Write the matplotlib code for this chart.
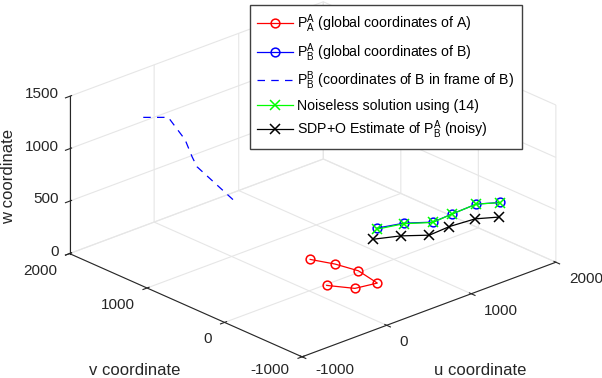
import matplotlib.pyplot as plt
import numpy as np
from mpl_toolkits.mplot3d import proj3d

plt.rcParams['font.family'] = ['Liberation Sans', 'DejaVu Sans']
plt.rcParams['mathtext.fontset'] = 'custom'
plt.rcParams['mathtext.rm'] = 'Liberation Sans'
plt.rcParams['mathtext.it'] = 'Liberation Sans:italic'
plt.rcParams['axes.unicode_minus'] = False
plt.rcParams['grid.color'] = '#e6e6e6'
plt.rcParams['grid.linewidth'] = 0.8

# P_A^A : global coordinates of A
a_u = [462, 555, 607, 551, 330, 192]
a_v = [491, 270, 28, -278, -230, -17]
a_w = [0, 0, 0, 0, 0, 0]

# P_B^A : global coordinates of B
b_u = [583, 832, 1031, 1270, 1571, 1749]
b_v = [-235, -317, -470, -455, -441, -556]
b_w = [500, 500, 500, 500, 500, 500]

# P_B^B : coordinates of B in frame of B
bb_u = [-527, -366, -430, -479, -517, -560]
bb_v = [1565, 1418, 1131, 988, 883, 322]
bb_w = [1300, 1300, 1200, 1100, 1050, 900]

# noiseless solution
g_u = [583, 832, 1031, 1270, 1571, 1749]
g_v = [-235, -317, -470, -455, -441, -556]
g_w = [490, 495, 497, 500, 500, 498]

# SDP+O estimate (noisy)
k_u = [553, 778, 972, 1226, 1503, 1678]
k_v = [-224, -333, -490, -472, -502, -612]
k_w = [400, 400, 400, 400, 400, 400]

u_ticks = [-1000, 0, 1000, 2000]
v_ticks = [-1000, 0, 1000, 2000]
w_ticks = [0, 500, 1000, 1500]

W, H = 602, 378
fig = plt.figure(figsize=(W / 100, H / 100), dpi=100)
ax = fig.add_subplot(projection='3d', proj_type='ortho')
ax.view_init(elev=24, azim=-132.5)
ax.set_box_aspect((1, 1, 0.5))

ax.plot(a_u, a_v, a_w, '-o', color='red', lw=0.9, ms=6.3, mfc='none', mew=1.1,
        label=r'P$_{\rm A}^{\rm A}$ (global coordinates of A)')
ax.plot(b_u, b_v, b_w, '-o', color='blue', lw=0.9, ms=6.3, mfc='none', mew=1.1,
        label=r'P$_{\rm B}^{\rm A}$ (global coordinates of B)')
ax.plot(bb_u, bb_v, bb_w, color='blue', lw=0.9, ls=(0, (6, 5)),
        label=r'P$_{\rm B}^{\rm B}$ (coordinates of B in frame of B)')
ax.plot(g_u, g_v, g_w, '-x', color='#00ff00', lw=0.9, ms=6.5, mew=1.1,
        label='Noiseless solution using (14)')
ax.plot(k_u, k_v, k_w, '-x', color='black', lw=0.9, ms=6.5, mew=1.1,
        label=r'SDP+O Estimate of P$_{\rm B}^{\rm A}$ (noisy)')

ax.set_xlim(-1000, 2000)
ax.set_ylim(-1000, 2000)
ax.set_zlim(0, 1500)
ax.set_xticks(u_ticks)
ax.set_yticks(v_ticks)
ax.set_zticks(w_ticks)
# tick labels are drawn by hand below, matlab style
ax.set_xticklabels([])
ax.set_yticklabels([])
ax.set_zticklabels([])
ax.tick_params(colors='0.15')

for axis in (ax.xaxis, ax.yaxis, ax.zaxis):
    axis.pane.set_fill(False)
    axis.pane.set_edgecolor('none')
    axis.line.set_color('0.15')
    axis.line.set_linewidth(0.8)

fig.text(480 / W, 1 - 375 / H, 'u coordinate', ha='center', va='baseline', fontsize=12, color='0.15')
fig.text(135 / W, 1 - 375 / H, 'v coordinate', ha='center', va='baseline', fontsize=12, color='0.15')
fig.text(9 / W, 1 - 176 / H, 'w coordinate', ha='center', va='center', rotation=90,
         fontsize=12, color='0.15')

ax.legend(loc='upper left', bbox_to_anchor=(250 / W, 1 - 5 / H), bbox_transform=fig.transFigure,
          fancybox=False, edgecolor='0.25', framealpha=1, fontsize=10.2, handlelength=2.5,
          handletextpad=0.35, borderpad=0.5, labelspacing=0.44, borderaxespad=0)

# fit the box corners to where they sit in the original figure
corners = [(-1000, -1000, 0), (-1000, 2000, 0), (2000, -1000, 0), (-1000, 2000, 1500)]
targets = [(302.7, 356.7), (69.3, 253.3), (555.7, 262.3), (69.3, 96.7)]
fig.canvas.draw()
box = ax.bbox
c0 = np.array([(box.x0 + box.x1) / 2, (box.y0 + box.y1) / 2])
L0 = box.width
A, t = [], []
for (x, y, z), (tx, ty) in zip(corners, targets):
    px, py, _ = proj3d.proj_transform(x, y, z, ax.M)
    f = (ax.transData.transform((px, py)) - c0) / L0
    A.append([1, 0, f[0]])
    A.append([0, 1, f[1]])
    t.extend([tx, H - ty])
cx, cy, L = np.linalg.lstsq(np.array(A), np.array(t), rcond=None)[0]
ax.set_position([(cx - L / 2) / W, (cy - L / 2) / H, L / W, L / H])
fig.canvas.draw()


def to_px(x, y, z):
    px, py, _ = proj3d.proj_transform(x, y, z, ax.M)
    return ax.transData.transform((px, py))


# keep the lowest labels just inside the bottom edge
for u in u_ticks:
    x, y = to_px(u, -1000, 0)
    fig.text((x + 13) / W, max(y - 17, 8) / H, str(u), ha='left', va='center', fontsize=11, color='0.15')
for v in v_ticks:
    x, y = to_px(-1000, v, 0)
    fig.text((x - 12.5) / W, max(y - 17, 8) / H, str(v), ha='right', va='center', fontsize=11, color='0.15')
for w in w_ticks:
    x, y = to_px(-1000, 2000, w)
    fig.text((x - 11) / W, (y + 2) / H, str(w), ha='right', va='center', fontsize=11, color='0.15')

fig.savefig('out.png', dpi=100)
